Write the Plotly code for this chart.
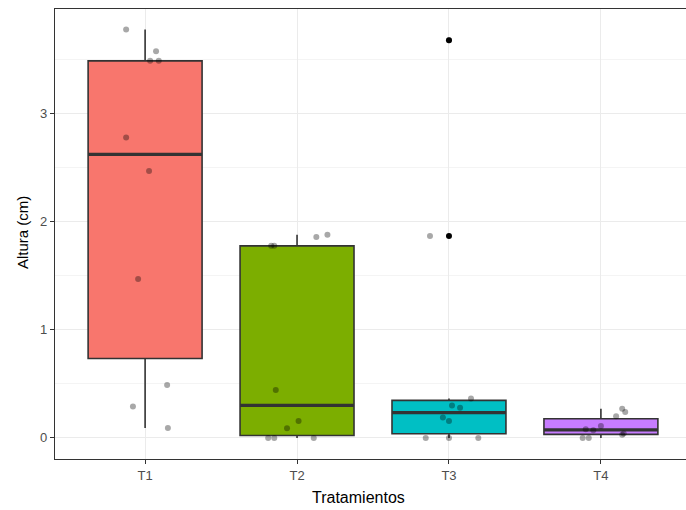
import numpy as np
import plotly.graph_objects as go

# Treatments and measured plant heights (cm)
categories = ["T1", "T2", "T3", "T4"]
heights_t1 = [0.093, 0.29, 0.49, 1.47, 2.47, 2.78, 3.49, 3.49, 3.58, 3.78]
heights_t2 = [0.0, 0.0, 0.0, 0.09, 0.157, 0.444, 1.778, 1.778, 1.86, 1.88]
heights_t3 = [0.0, 0.0, 0.0, 0.157, 0.188, 0.28, 0.30, 0.364, 1.87, 3.68]
heights_t4 = [0.0, 0.0, 0.03, 0.04, 0.07, 0.08, 0.11, 0.20, 0.24, 0.27]

# Horizontal jitter applied to each observation (in category units)
jitter_t1 = [0.15, -0.08, 0.145, -0.046, 0.026, -0.125, 0.033, 0.09, 0.072, -0.125]
jitter_t2 = [-0.19, -0.15, 0.11, -0.066, 0.01, -0.14, -0.17, -0.15, 0.127, 0.2]
jitter_t3 = [-0.153, 0.193, 0.0, 0.0, -0.04, 0.073, 0.02, 0.145, -0.125, 0.0]
jitter_t4 = [-0.08, -0.12, 0.14, 0.15, -0.05, -0.1, 0.0, 0.1, 0.16, 0.14]

fill_colors = ["#F8766D", "#7CAE00", "#00BFC4", "#C77CFF"]

groups = [heights_t1, heights_t2, heights_t3, heights_t4]
jitters = [jitter_t1, jitter_t2, jitter_t3, jitter_t4]

BOX_WIDTH = 0.75
EDGE = "#333333"

fig = go.Figure()

outlier_x, outlier_y = [], []
for i, (cat, vals, col) in enumerate(zip(categories, groups, fill_colors)):
    pos = i + 1
    v = np.array(vals, dtype=float)
    q1, med, q3 = np.percentile(v, [25, 50, 75])
    iqr = q3 - q1
    lo_lim, hi_lim = q1 - 1.5 * iqr, q3 + 1.5 * iqr
    inside = v[(v >= lo_lim) & (v <= hi_lim)]
    lower, upper = inside.min(), inside.max()
    for o in v[(v < lo_lim) | (v > hi_lim)]:
        outlier_x.append(pos)
        outlier_y.append(o)

    fig.add_trace(go.Box(
        x=[pos], q1=[q1], median=[med], q3=[q3],
        lowerfence=[lower], upperfence=[upper],
        width=BOX_WIDTH, whiskerwidth=0,
        fillcolor=col, line=dict(color=EDGE, width=1.6),
        boxpoints=False, showlegend=False, hoverinfo="skip",
    ))
    # thicker median bar, as in ggplot
    fig.add_trace(go.Scatter(
        x=[pos - BOX_WIDTH / 2, pos + BOX_WIDTH / 2], y=[med, med],
        mode="lines", line=dict(color=EDGE, width=3.2),
        showlegend=False, hoverinfo="skip",
    ))

# outliers at the category centre
fig.add_trace(go.Scatter(
    x=outlier_x, y=outlier_y, mode="markers",
    marker=dict(color="black", size=6, line=dict(width=0)),
    showlegend=False,
))

# jittered raw observations
for i, (vals, jit) in enumerate(zip(groups, jitters)):
    pos = i + 1
    fig.add_trace(go.Scatter(
        x=[pos + j for j in jit], y=vals, mode="markers",
        marker=dict(color="rgba(0,0,0,0.34)", size=6, line=dict(width=0)),
        showlegend=False,
    ))

PLOT_L, PLOT_R, PLOT_T, PLOT_B = 55, 686, 9, 459


def px_x(x):
    return (x - PLOT_L) / (PLOT_R - PLOT_L)


def px_y(y):
    return (PLOT_B - y) / (PLOT_B - PLOT_T)


fig.update_layout(
    width=686, height=510,
    margin=dict(l=PLOT_L, r=686 - PLOT_R, t=PLOT_T, b=510 - PLOT_B),
    paper_bgcolor="white", plot_bgcolor="white",
    font=dict(family="Liberation Sans, Arial, sans-serif"),
    annotations=[
        dict(text="Tratamientos", x=px_x(358), y=px_y(497),
             xanchor="center", yanchor="middle",
             xref="paper", yref="paper", showarrow=False,
             font=dict(size=16, color="black")),
        dict(text="Altura (cm)", x=px_x(22), y=px_y(233), textangle=-90,
             xanchor="center", yanchor="middle",
             xref="paper", yref="paper", showarrow=False,
             font=dict(size=15, color="black")),
    ],
)

fig.update_xaxes(
    range=[0.407, 4.56],
    tickmode="array", tickvals=[1, 2, 3, 4], ticktext=categories,
    showgrid=True, gridcolor="#EBEBEB", gridwidth=1,
    zeroline=False,
    ticks="outside", ticklen=4, tickcolor=EDGE, tickwidth=1,
    tickfont=dict(size=13, color="#4D4D4D"),
    showline=True, linecolor=EDGE, linewidth=1.2, mirror=True,
)
fig.update_yaxes(
    range=[-0.195, 3.97],
    tickmode="array", tickvals=[0, 1, 2, 3], ticktext=["0", "1", "2", "3"],
    showgrid=True, gridcolor="#EBEBEB", gridwidth=1,
    minor=dict(tickmode="array", tickvals=[0.5, 1.5, 2.5, 3.5],
               showgrid=True, gridcolor="#F4F4F4", gridwidth=0.8, ticks=""),
    zeroline=False,
    ticks="outside", ticklen=4, tickcolor=EDGE, tickwidth=1,
    tickfont=dict(size=13, color="#4D4D4D"),
    showline=True, linecolor=EDGE, linewidth=1.2,
)

fig.write_html("out.html")
